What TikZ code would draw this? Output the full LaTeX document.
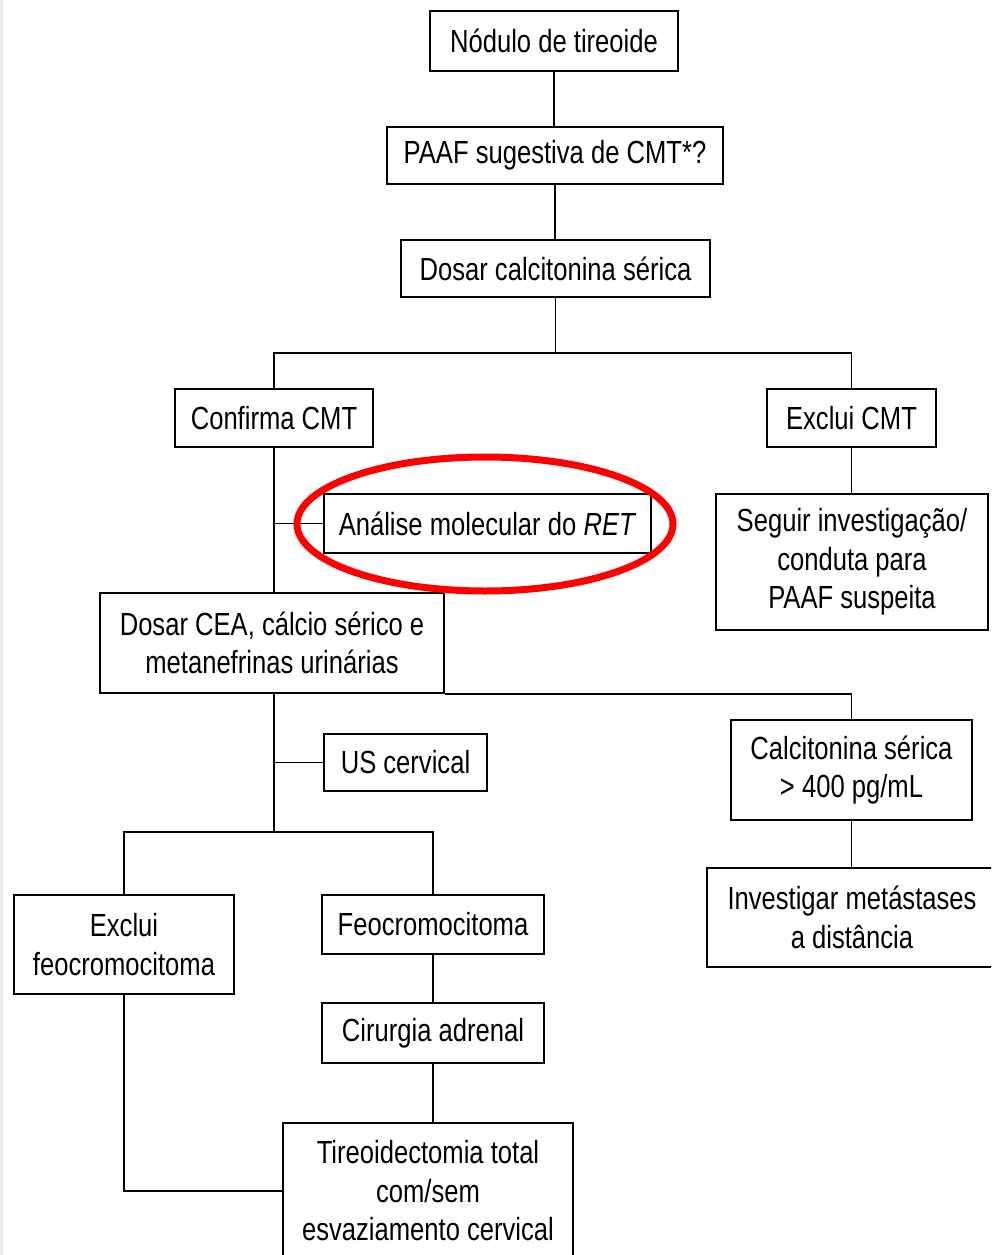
\documentclass[tikz,border=0pt]{standalone}
\usepackage{fontspec}
\setmainfont{Liberation Sans}[FakeStretch=0.8]
\usetikzlibrary{calc}

\begin{document}
\begin{tikzpicture}[x=1pt,y=1pt,
  box/.style={draw,line width=1.8pt,inner sep=0pt,align=center,
    font=\fontsize{32}{38.5}\selectfont},
  link/.style={line width=1.8pt}]

\path[use as bounding box] (0,0) rectangle (991,-1255);
\clip (0,0) rectangle (991,-1255);
\fill[gray!15] (0,0) rectangle (2.5,-1255);

%-------------------------------------------------------------------
% Top chain
\node[box,minimum width=248,minimum height=60] (nodulo) at (554,-41) {Nódulo de tireoide};
\node[box,minimum width=336,minimum height=57] (paaf) at (555,-155.5) {PAAF sugestiva de CMT*?};
\node[box,minimum width=309,minimum height=57] (calcit) at (555.5,-268.5) {Dosar calcitonina sérica};

\draw[link] (nodulo.south) -- (nodulo.south |- paaf.north);
\draw[link] (paaf.south) -- (paaf.south |- calcit.north);

%-------------------------------------------------------------------
% First split: confirma / exclui
\coordinate (split1) at (553,-353);
\node[box,minimum width=198,minimum height=58] (confirma) at (274,-418) {Confirma CMT};
\node[box,minimum width=169,minimum height=58] (exclui) at (851.5,-418) {Exclui CMT};

\draw[link] (calcit.south) -- (calcit.south |- split1);
\draw[link] (confirma.north) |- (split1) -| (exclui.north);

% Right branch
\node[box,minimum width=272,minimum height=136] (seguir) at (852,-562)
  {Seguir investigação/\\conduta para\\PAAF suspeita};
\draw[link] (exclui.south) -- (exclui.south |- seguir.north);

% Left branch
\node[box,minimum width=327,minimum height=59] (ret) at (487.5,-523.5) {Análise molecular do \textit{RET}};
\node[box,minimum width=344,minimum height=100] (cea) at (272,-643)
  {Dosar CEA, cálcio sérico e\\metanefrinas urinárias};

\draw[link] (confirma.south) -- (confirma.south |- cea.north);
\draw[link] (confirma.south |- ret.west) -- (ret.west);

%-------------------------------------------------------------------
% After CEA
\node[box,minimum width=163,minimum height=57] (us) at (405.5,-762.5) {US cervical};
\node[box,minimum width=241,minimum height=100] (calc400) at (851.5,-770)
  {Calcitonina sérica\\> 400 pg/mL};
\node[box,minimum width=290,minimum height=99] (metast) at (852,-917.5)
  {Investigar metástases\\a distância};

\coordinate (split2) at (274,-832);
\draw[link] (confirma.south |- cea.south) -- (split2);
\draw[link] (confirma.south |- us.west) -- (us.west);
\draw[link] (cea.south east) -| (calc400.north);
\draw[link] (calc400.south) -- (calc400.south |- metast.north);

%-------------------------------------------------------------------
% Pheochromocytoma split
\node[box,minimum width=220,minimum height=99] (exfeo) at (124,-944.5)
  {Exclui\\feocromocitoma};
\node[box,minimum width=222,minimum height=59] (feo) at (433,-924.5) {Feocromocitoma};
\node[box,minimum width=222,minimum height=60] (cirurgia) at (433,-1033) {Cirurgia adrenal};
\node[box,minimum width=290,minimum height=136] (tireo) at (428,-1191)
  {Tireoidectomia total\\com/sem\\esvaziamento cervical};

\draw[link] (exfeo.north) |- (split2) -| (feo.north);
\draw[link] (feo.south) -- (feo.south |- cirurgia.north);
\draw[link] (cirurgia.south) -- (cirurgia.south |- tireo.north);
\draw[link] (exfeo.south) |- (tireo.west);

% Highlight
\draw[red,line width=7pt] (485,-524) ellipse [x radius=188, y radius=67];

\end{tikzpicture}
\end{document}
